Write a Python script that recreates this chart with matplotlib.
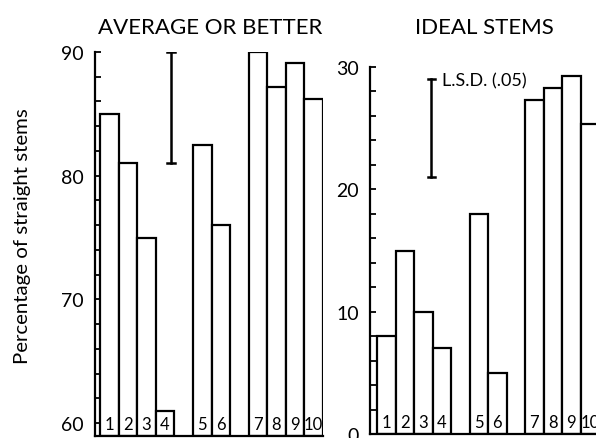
import matplotlib
matplotlib.use('Agg')
import matplotlib.pyplot as plt
from matplotlib.ticker import MultipleLocator

plt.rcParams['font.family'] = ['Lato', 'DejaVu Sans']

# bar number labels and their group layout
labels = ['1', '2', '3', '4', '5', '6', '7', '8', '9', '10']
groups = [4, 2, 4]

avg_better = [85, 81, 75, 61, 82.5, 76, 90, 87.2, 89.1, 86.2]
ideal = [8, 15, 10, 7, 18, 5, 27.3, 28.3, 29.3, 25.3]

lsd_avg = (81, 90)
lsd_ideal = (21, 29)

# left edges of bars, one empty slot between groups
pos = []
x = 0
for n in groups:
    for i in range(n):
        pos.append(x)
        x += 1
    x += 1

W, H = 596, 439
fig = plt.figure(figsize=(W / 100, H / 100), dpi=100)

ax1 = fig.add_axes([95 / W, 2 / H, 228 / W, 384 / H])
ax2 = fig.add_axes([370 / W, 4 / H, 229 / W, 367 / H])


def draw(ax, vals, ylo, yhi, xlo, lsd, lsd_x, cap, label_y):
    ax.bar(pos, [v - ylo for v in vals], bottom=ylo, width=1, align='edge',
           facecolor='white', edgecolor='black', linewidth=1.6)
    for p, lab in zip(pos, labels):
        ax.text(p + 0.5, label_y, lab, ha='center', va='bottom', fontsize=12)
    ax.plot([lsd_x, lsd_x], lsd, color='black', lw=1.8)
    for yy in lsd:
        ax.plot([lsd_x - cap, lsd_x + cap], [yy, yy], color='black', lw=1.8)
    ax.set_ylim(ylo, yhi)
    ax.set_xlim(xlo, 12)
    ax.set_xticks([])
    ax.yaxis.set_major_locator(MultipleLocator(10))
    ax.yaxis.set_minor_locator(MultipleLocator(2))
    ax.tick_params(axis='y', which='both', direction='in', length=4, width=1.3,
                   labelsize=14, pad=8)
    for s in ['top', 'right']:
        ax.spines[s].set_visible(False)
    for s in ['left', 'bottom']:
        ax.spines[s].set_linewidth(1.6)
    ax.spines['left'].set_bounds(ylo, yhi)


draw(ax1, avg_better, 58.95, 90, -0.27, lsd_avg, 3.82, 0.22, 59.3)
draw(ax2, ideal, 0, 30, -0.38, lsd_ideal, 2.92, 0.19, 0.3)
ax1.set_yticks([60, 70, 80, 90])
ax2.set_yticks([0, 10, 20, 30])
ax2.text(3.5, 28.9, 'L.S.D. (.05)', fontsize=13, va='center', ha='left')

fig.text(210 / W, 1 - 28 / H, 'AVERAGE OR BETTER', fontsize=16,
         ha='center', va='center')
fig.text(484 / W, 1 - 28 / H, 'IDEAL STEMS', fontsize=16,
         ha='center', va='center')
fig.text(23 / W, 1 - 236 / H, 'Percentage of straight stems', fontsize=14.7,
         rotation=90, ha='center', va='center')

fig.savefig('out.png', dpi=100)
